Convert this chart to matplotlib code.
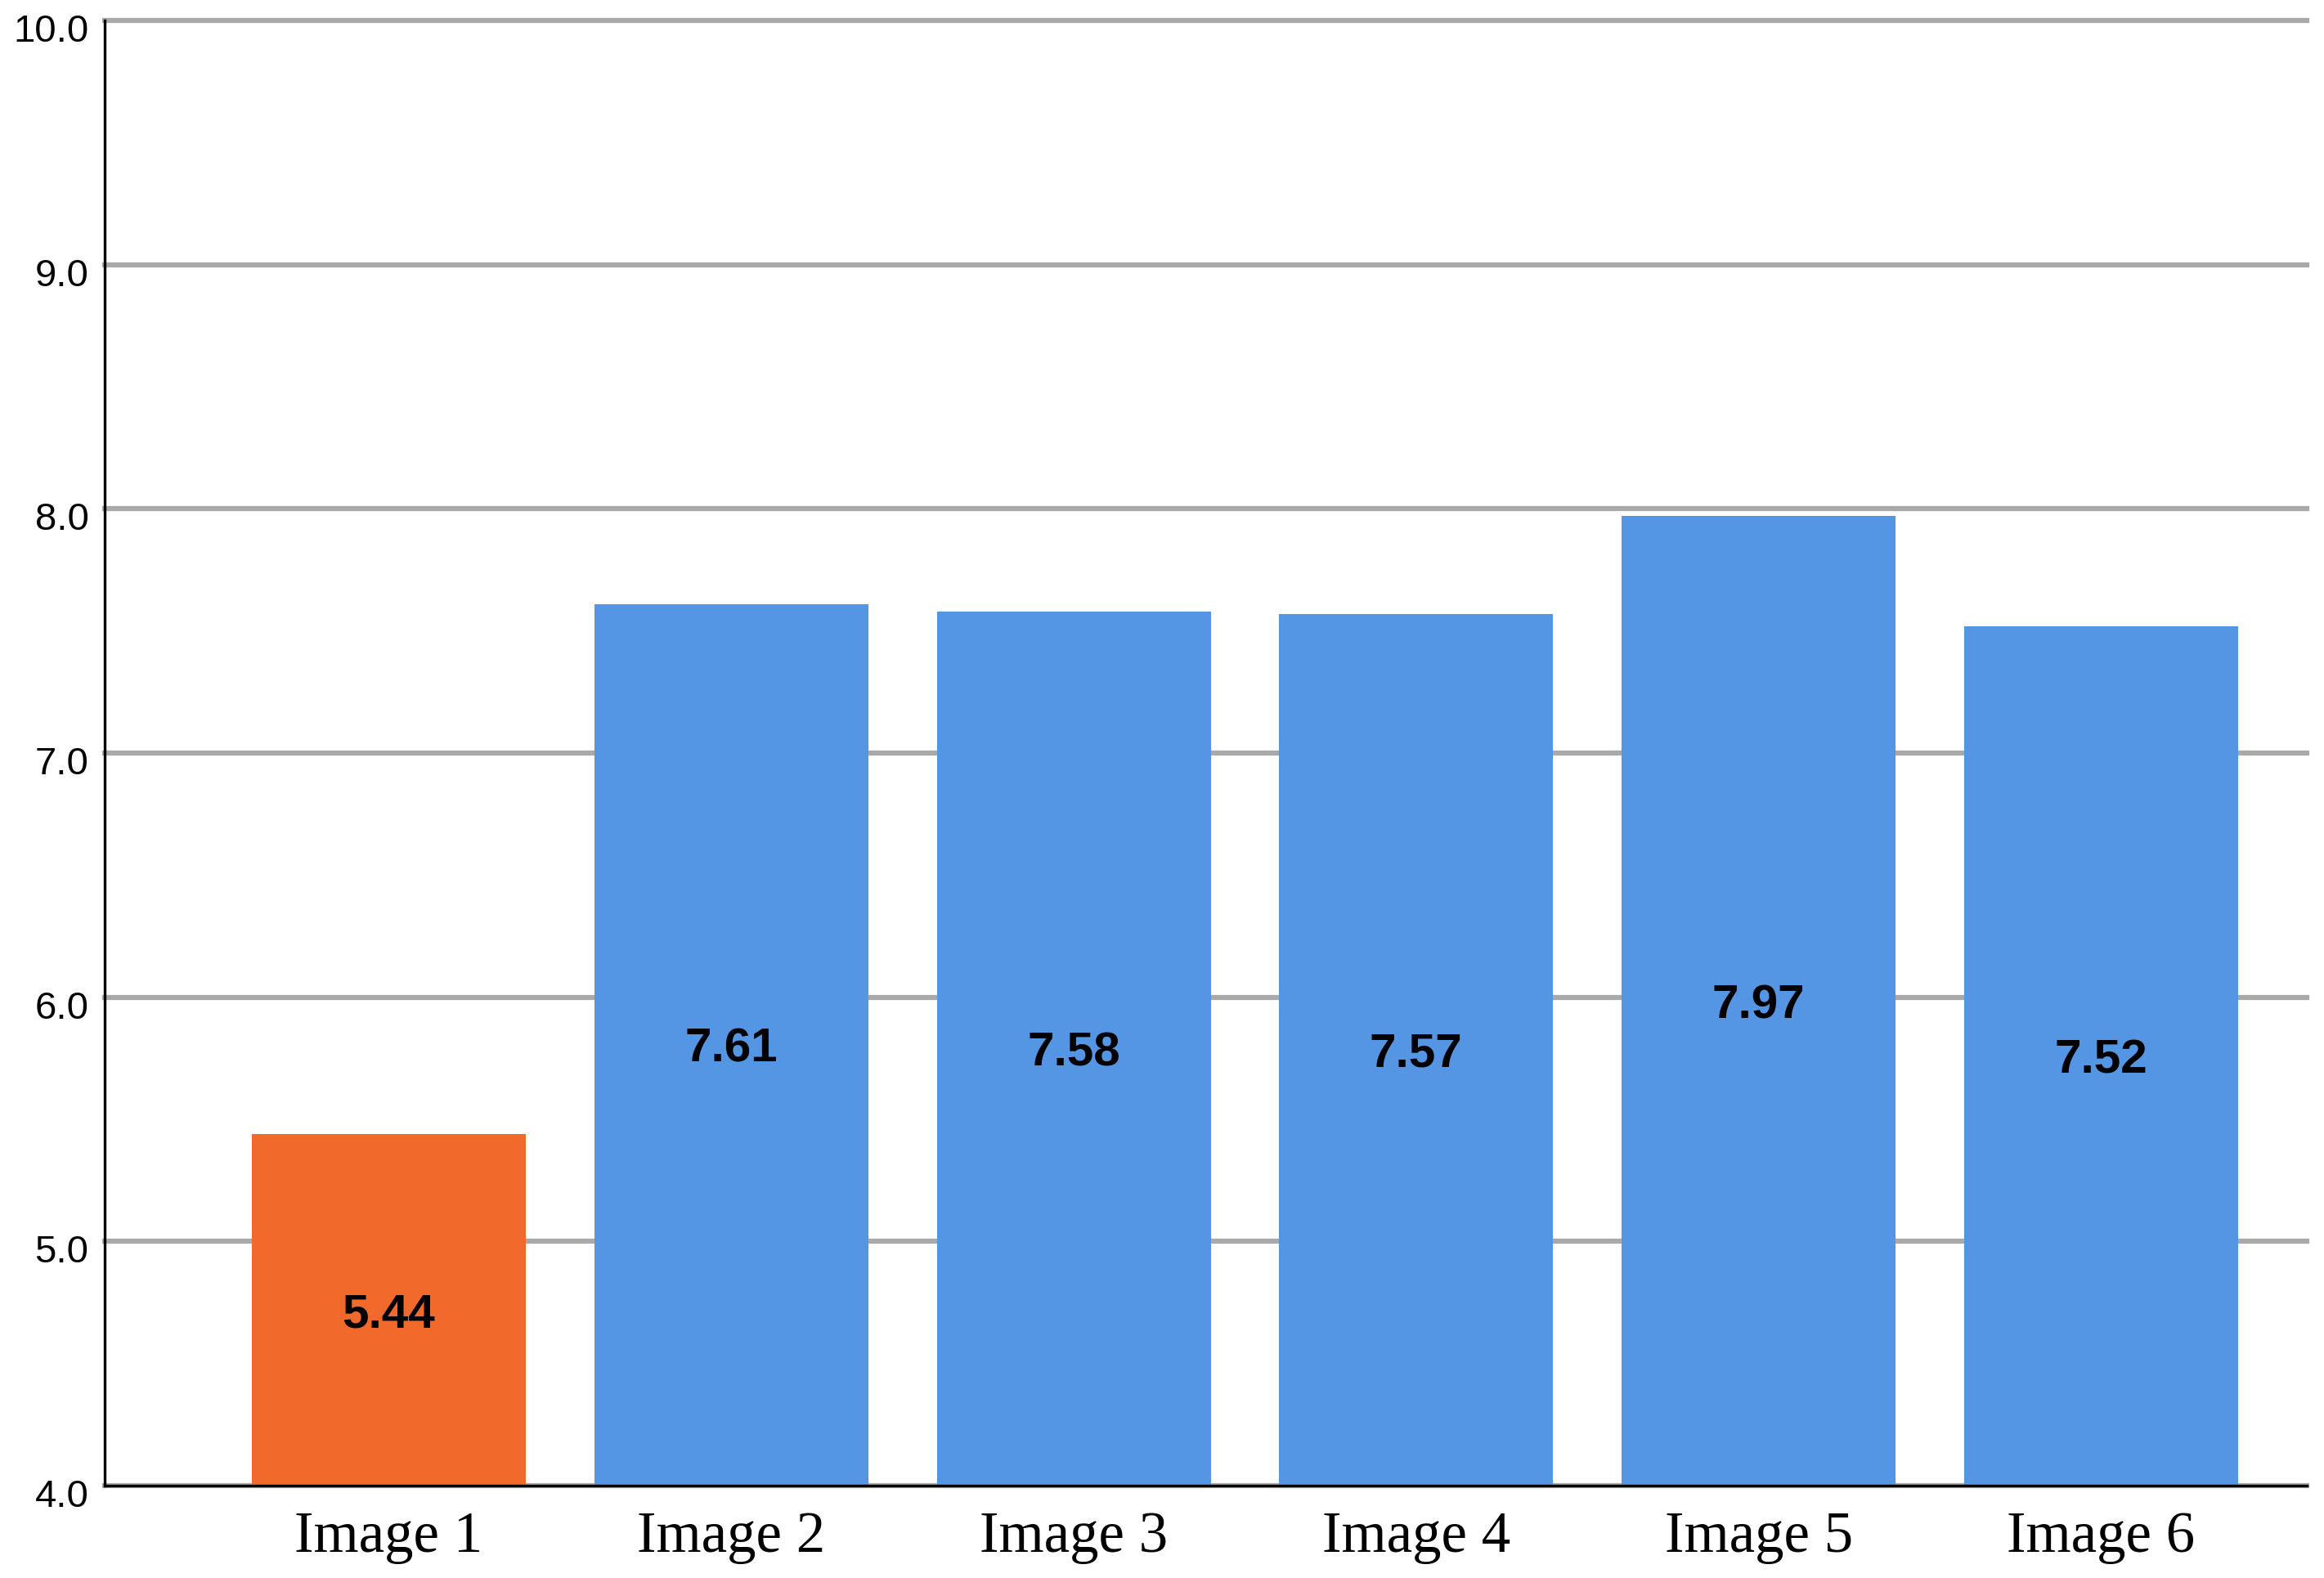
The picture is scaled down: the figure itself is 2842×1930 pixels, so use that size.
import matplotlib
matplotlib.use("Agg")
import matplotlib.pyplot as plt
import matplotlib.transforms as mtransforms

# datos
categorias = ["Image 1", "Image 2", "Image 3", "Image 4", "Image 5", "Image 6"]
valores = [5.44, 7.61, 7.58, 7.57, 7.97, 7.52]
colores = ["#f26a2b", "#5596e4", "#5596e4", "#5596e4", "#5596e4", "#5596e4"]
yticks = [4.0, 5.0, 6.0, 7.0, 8.0, 9.0, 10.0]

fig = plt.figure(figsize=(28.42, 19.30), dpi=100)
ax = fig.add_axes([0.045, 0.0585, 0.9475, 0.9285])

pos = list(range(len(categorias)))
ax.bar(pos, [v - 4.0 for v in valores], bottom=4.0, width=0.80, color=colores, zorder=3)

# etiquetas en el centro de cada barra
for p, v in zip(pos, valores):
    ax.text(p, (4.0 + v) / 2 - 0.02, "%.2f" % v, ha="center", va="center",
            fontsize=42, fontweight="bold", family="Liberation Sans", zorder=4)

ax.set_xlim(-0.83, 5.60)
ax.set_ylim(4.0, 10.0)
ax.set_yticks(yticks)
ax.set_yticklabels(["%.1f" % t for t in yticks], family="Liberation Sans", fontsize=34)
ax.set_xticks(pos)
ax.set_xticklabels(categorias, family="Liberation Serif", fontsize=51)

ax.tick_params(axis="y", length=0, pad=14)
ax.tick_params(axis="x", length=0, pad=22)

# bajar un poco las etiquetas del eje y
desplaza = mtransforms.ScaledTranslation(0, -9 / 100, fig.dpi_scale_trans)
for lab in ax.get_yticklabels():
    lab.set_transform(lab.get_transform() + desplaza)

ax.grid(axis="y", color="#a9a9a9", linewidth=4.5, zorder=1)
ax.set_axisbelow(True)
for l in ax.get_ygridlines():
    l.set_clip_on(False)

ax.spines["top"].set_visible(False)
ax.spines["right"].set_visible(False)
ax.spines["left"].set_linewidth(2.4)
ax.spines["bottom"].set_linewidth(2.4)
ax.spines["left"].set_zorder(5)
ax.spines["bottom"].set_zorder(5)

fig.savefig("out.png", dpi=100)
